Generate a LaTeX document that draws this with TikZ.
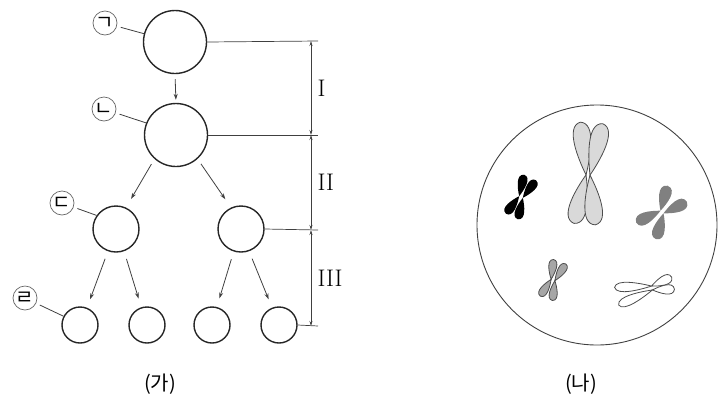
\documentclass[tikz,border=0pt]{standalone}
\usepackage{fontspec}
\newfontfamily\kr{Noto Sans CJK KR}
\usepackage{tikz}
\usetikzlibrary{arrows.meta}

% one chromatid arm: #1 side offset, #2 angle, #3 length, #4 width, #5 style
\newcommand{\arm}[5]{%
    \path[#5,shift={(#1,0)},rotate=#2] (0,0) .. controls (-0.45*#4,-0.3*#3) and (-1.25*#4,-0.95*#3) .. (0,-#3)
        .. controls (1.25*#4,-0.95*#3) and (0.45*#4,-0.3*#3) .. (0,0) -- cycle;}

% #1 centromere, #2 angle, #3 upper arm, #4 lower arm, #5 width, #6 spread, #7 style
\newcommand{\chromosome}[7]{%
    \begin{scope}[shift={#1},rotate=#2]
        \arm{-2}{#6}{#3}{#5}{#7}
        \arm{2}{-#6}{#3}{#5}{#7}
        \arm{-2}{180-#6}{#4}{#5}{#7}
        \arm{2}{180+#6}{#4}{#5}{#7}
    \end{scope}}

\begin{document}
\begin{tikzpicture}
    [%%%%%%%%%%%%%%%%%%%%%%%%%%%%%%
        x=1pt, y=-1pt,
        cell/.style={circle,draw=black!85,line width=1.4pt,inner sep=0pt},
        tag/.style={circle,draw=black!60,line width=0.7pt,minimum size=24pt,inner sep=0pt,font=\kr\fontsize{20}{20}\selectfont},
        arr/.style={draw=black!75,line width=0.8pt,-{Stealth[length=6pt,width=4pt]}},
        dim/.style={draw=black!75,line width=0.7pt,{Stealth[length=5pt,width=3pt]}-{Stealth[length=5pt,width=3pt]}},
        roman/.style={font=\fontsize{24}{24}\selectfont},
        chrom/.style={draw=black!70,line width=0.8pt}
    ]%%%%%%%%%%%%%%%%%%%%%%%%%%%%%%
\useasboundingbox (0,0) rectangle (725,405);

% (가)
\node[cell,minimum size=63pt] (c1) at (175,42) {};
\node[cell,minimum size=63pt] (c2) at (176,135) {};
\node[cell,minimum size=46pt] (c3) at (116,229) {};
\node[cell,minimum size=46pt] (c4) at (241,229) {};
\node[cell,minimum size=36pt] (b1) at (80,325) {};
\node[cell,minimum size=36pt] (b2) at (147,325) {};
\node[cell,minimum size=36pt] (b3) at (212,325) {};
\node[cell,minimum size=36pt] (b4) at (279,325) {};

\draw[arr,shorten <=5pt,shorten >=3pt] (c1.south) -- (c2.north);
\draw[arr,shorten <=6pt,shorten >=10pt] (c2.228) -- (c3.65);
\draw[arr,shorten <=6pt,shorten >=10pt] (c2.312) -- (c4.115);
\draw[arr,shorten <=8pt,shorten >=9pt] (c3.250) -- (b1.68);
\draw[arr,shorten <=8pt,shorten >=9pt] (c3.290) -- (b2.108);
\draw[arr,shorten <=8pt,shorten >=9pt] (c4.252) -- (b3.75);
\draw[arr,shorten <=8pt,shorten >=9pt] (c4.290) -- (b4.112);

% tags
\node[tag] (ta) at (105,23) {ㄱ};
\node[tag] (tb) at (104,109) {ㄴ};
\node[tag] (tc) at (62,203) {ㄷ};
\node[tag] (td) at (25,298) {ㄹ};
\draw[draw=black!75,line width=0.8pt,shorten <=4pt] (ta) -- (c1.165);
\draw[draw=black!75,line width=0.8pt,shorten <=4pt] (tb) -- (c2.158);
\draw[draw=black!75,line width=0.8pt,shorten <=4pt] (tc) -- (c3.145);
\draw[draw=black!75,line width=0.8pt,shorten <=4pt] (td) -- (b1.152);

% stages
\coordinate (h1) at (318,41);
\coordinate (h2) at (318,135);
\coordinate (h3) at (318,230);
\coordinate (h4) at (318,326);
\coordinate (d1) at (311,41);
\coordinate (d2) at (311,135);
\coordinate (d3) at (311,230);
\coordinate (d4) at (311,326);
\draw[draw=black!75,line width=0.7pt] (c1.east) -- (h1);
\draw[draw=black!75,line width=0.7pt] (c2.east) -- (h2);
\draw[draw=black!75,line width=0.7pt] (c4.east) -- (h3);
\draw[draw=black!75,line width=0.7pt] (b4.east) -- (h4);
\draw[dim] (d1) -- (d2) node[midway,right=3pt,roman] (s1) {I};
\draw[dim] (d2) -- (d3) node[midway,right=3pt,roman] (s2) {II};
\draw[dim] (d3) -- (d4) node[midway,right=3pt,roman] (s3) {III};

% (나)
\node[circle,draw=black!75,line width=0.9pt,minimum size=240pt] (cell) at (597,225) {};
\chromosome{(588,175)}{-4}{53}{50}{13}{10}{chrom,fill=black!15}
\chromosome{(521,197)}{-25}{22}{22}{7}{12}{fill=black}
\chromosome{(662,212)}{-40}{26}{27}{9}{24}{fill=black!50}
\chromosome{(553,280)}{-20}{20}{20}{6}{13}{chrom,fill=black!35}
\chromosome{(652,288)}{103}{37}{22}{7}{11}{chrom,fill=white}

% captions
\node[font=\kr\fontsize{20}{20}\selectfont] (ga) at (160,384) {(가)};
\node[font=\kr\fontsize{20}{20}\selectfont] (na) at (581,384) {(나)};

\end{tikzpicture}
\end{document}
